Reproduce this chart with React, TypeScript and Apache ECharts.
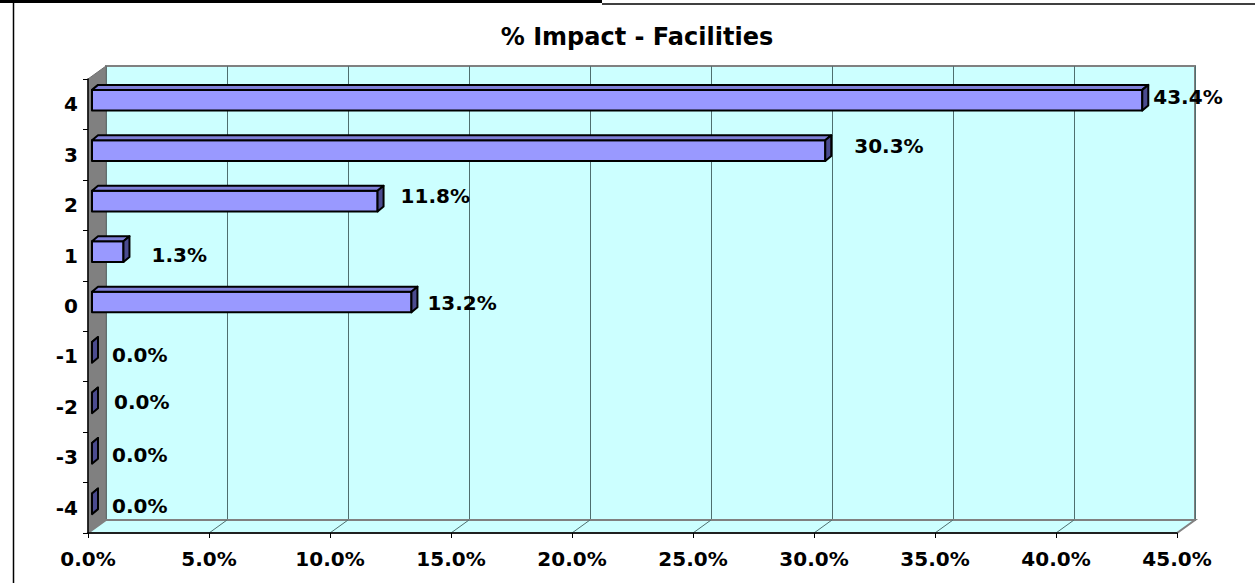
import React, { useEffect, useRef } from "react";
import * as echarts from "echarts";

const titleText = "% Impact - Facilities";
const categories = ["-4", "-3", "-2", "-1", "0", "1", "2", "3", "4"];
const values = [0.0, 0.0, 0.0, 0.0, 13.2, 1.3, 11.8, 30.3, 43.4];
const xMin = 0;
const xMax = 45;
const xStep = 5;
const xTicks = [0, 5, 10, 15, 20, 25, 30, 35, 40, 45];

// label nudges (style only)
const labelDx = [14, 14, 16, 14, 10, 22, 17, 23, 5];
const labelDy = [2, 1.5, -1, 2.5, 1, 3, -5.5, -5, -3];

const FONT = '"DejaVu Sans", "Liberation Sans", Arial, sans-serif';
const DX = 18;
const DY = 13;
const GRID_LEFT = 88;
const GRID_TOP = 79;
const GRID_W = 1089;
const GRID_H = 454;

export default function App() {
  const ref = useRef<HTMLDivElement>(null);
  useEffect(() => {
    if (!ref.current) return;
    const chart = echarts.init(ref.current, null, { renderer: "svg" });

    const barItem = (params: any, api: any) => {
      const v = api.value(0);
      const idx = api.value(1);
      const p0 = api.coord([0, idx]);
      const p1 = api.coord([v, idx]);
      const band = api.size([0, 1])[1];
      const h = band * 0.41;
      const ox = 4, oy = -4, bdx = 6, bdy = 5;
      const x0 = p0[0] + ox;
      const x1 = p1[0] + ox;
      const yc = p0[1] + oy;
      const y0 = yc - h / 2;
      const y1 = yc + h / 2;
      const edge = { stroke: "#000", lineWidth: 2, lineJoin: "round" };
      const children: any[] = [];
      if (x1 - x0 > 0.5) {
        children.push({
          type: "rect",
          shape: { x: x0, y: y0, width: x1 - x0, height: h },
          style: { fill: "#9999FF", ...edge },
        });
      }
      children.push({
        type: "polygon",
        shape: { points: [[x0, y0], [x0 + bdx, y0 - bdy], [x1 + bdx, y0 - bdy], [x1, y0]] },
        style: { fill: "#7F7FD8", ...edge },
      });
      children.push({
        type: "polygon",
        shape: { points: [[x1, y0], [x1 + bdx, y0 - bdy], [x1 + bdx, y1 - bdy], [x1, y1]] },
        style: { fill: "#4B4B8F", ...edge },
      });
      children.push({
        type: "text",
        x: x1 + bdx + labelDx[idx],
        y: yc + labelDy[idx],
        style: {
          text: v.toFixed(1) + "%",
          fill: "#000",
          fontSize: 20,
          fontWeight: "bold",
          fontFamily: FONT,
          align: "left",
          verticalAlign: "middle",
        },
      });
      return { type: "group", children };
    };

    const frameItem = (params: any, api: any) => {
      const band = api.size([0, 1])[1];
      const a = api.coord([xMin, 0]);
      const b = api.coord([xMin, categories.length - 1]);
      const right = api.coord([xMax, 0])[0];
      const x0 = a[0];
      const bottom = a[1] + band / 2;
      const top = b[1] - band / 2;
      const children: any[] = [
        {
          type: "polygon",
          shape: { points: [[x0, top], [x0 + DX, top - DY], [x0 + DX, bottom - DY], [x0, bottom]] },
          style: { fill: "#808080", stroke: "#707070", lineWidth: 1 },
        },
        {
          type: "polygon",
          shape: { points: [[x0, bottom], [x0 + DX, bottom - DY], [right + DX, bottom - DY], [right, bottom]] },
          style: { fill: "#CCFFFF", stroke: "#808080", lineWidth: 2 },
        },
      ];
      xTicks.forEach((t) => {
        if (t === xMin || t === xMax) return;
        const px = api.coord([t, 0])[0];
        children.push({
          type: "line",
          shape: { x1: px, y1: bottom, x2: px + DX, y2: bottom - DY },
          style: { stroke: "#4f6f6f", lineWidth: 1 },
        });
      });
      return { type: "group", children };
    };

    const labelStyle = {
      color: "#000",
      fontSize: 20,
      fontWeight: "bold" as const,
      fontFamily: FONT,
    };

    chart.setOption({
      animation: false,
      backgroundColor: "#fff",
      grid: [
        { left: GRID_LEFT, top: GRID_TOP, width: GRID_W, height: GRID_H, show: false, containLabel: false },
        {
          left: GRID_LEFT + DX,
          top: GRID_TOP - DY,
          width: GRID_W,
          height: GRID_H,
          show: true,
          backgroundColor: "#CCFFFF",
          borderColor: "#808080",
          borderWidth: 2,
          containLabel: false,
        },
      ],
      xAxis: [
        {
          gridIndex: 0,
          type: "value",
          min: xMin,
          max: xMax,
          interval: xStep,
          z: 10,
          axisLine: { show: true, lineStyle: { color: "#000", width: 1.5 } },
          axisTick: { show: true, length: 5, lineStyle: { color: "#000", width: 1 } },
          axisLabel: { ...labelStyle, margin: 16, formatter: (v: number) => v.toFixed(1) + "%" },
          splitLine: { show: false },
        },
        {
          gridIndex: 1,
          type: "value",
          min: xMin,
          max: xMax,
          interval: xStep,
          axisLine: { show: false },
          axisTick: { show: false },
          axisLabel: { show: false },
          splitLine: { show: true, lineStyle: { color: "#4f6f6f", width: 1 } },
        },
      ],
      yAxis: [
        {
          gridIndex: 0,
          type: "category",
          data: categories,
          z: 10,
          axisLine: { show: true, lineStyle: { color: "#000", width: 1.5 } },
          axisTick: { show: true, length: 5, alignWithLabel: false, lineStyle: { color: "#000", width: 1 } },
          axisLabel: { ...labelStyle, margin: 10 },
          splitLine: { show: false },
        },
        {
          gridIndex: 1,
          type: "category",
          data: categories,
          show: false,
        },
      ],
      graphic: [
        {
          type: "text",
          x: 637,
          y: 37,
          style: {
            text: titleText,
            fill: "#000",
            fontSize: 24,
            fontWeight: "bold",
            fontFamily: FONT,
            align: "center",
            verticalAlign: "middle",
          },
        },
        { type: "line", shape: { x1: 0, y1: 1.5, x2: 602, y2: 1.5 }, style: { stroke: "#000", lineWidth: 3 } },
        { type: "line", shape: { x1: 602, y1: 4, x2: 1255, y2: 4 }, style: { stroke: "#000", lineWidth: 1.5 } },
        { type: "line", shape: { x1: 13.5, y1: 3, x2: 13.5, y2: 583 }, style: { stroke: "#000", lineWidth: 1.5 } },
      ],
      series: [
        {
          type: "custom",
          name: "frame",
          xAxisIndex: 0,
          yAxisIndex: 0,
          z: 1,
          renderItem: frameItem,
          data: [[xMin, 0]],
          silent: true,
        },
        {
          type: "custom",
          name: "% Impact",
          xAxisIndex: 0,
          yAxisIndex: 0,
          z: 5,
          encode: { x: 0, y: 1 },
          renderItem: barItem,
          data: values.map((v, i) => [v, i]),
        },
      ],
    });
    return () => chart.dispose();
  }, []);

  return (
    <div
      ref={ref}
      style={{ position: "fixed", left: 0, top: 0, width: 1255, height: 583, background: "#fff" }}
    />
  );
}
